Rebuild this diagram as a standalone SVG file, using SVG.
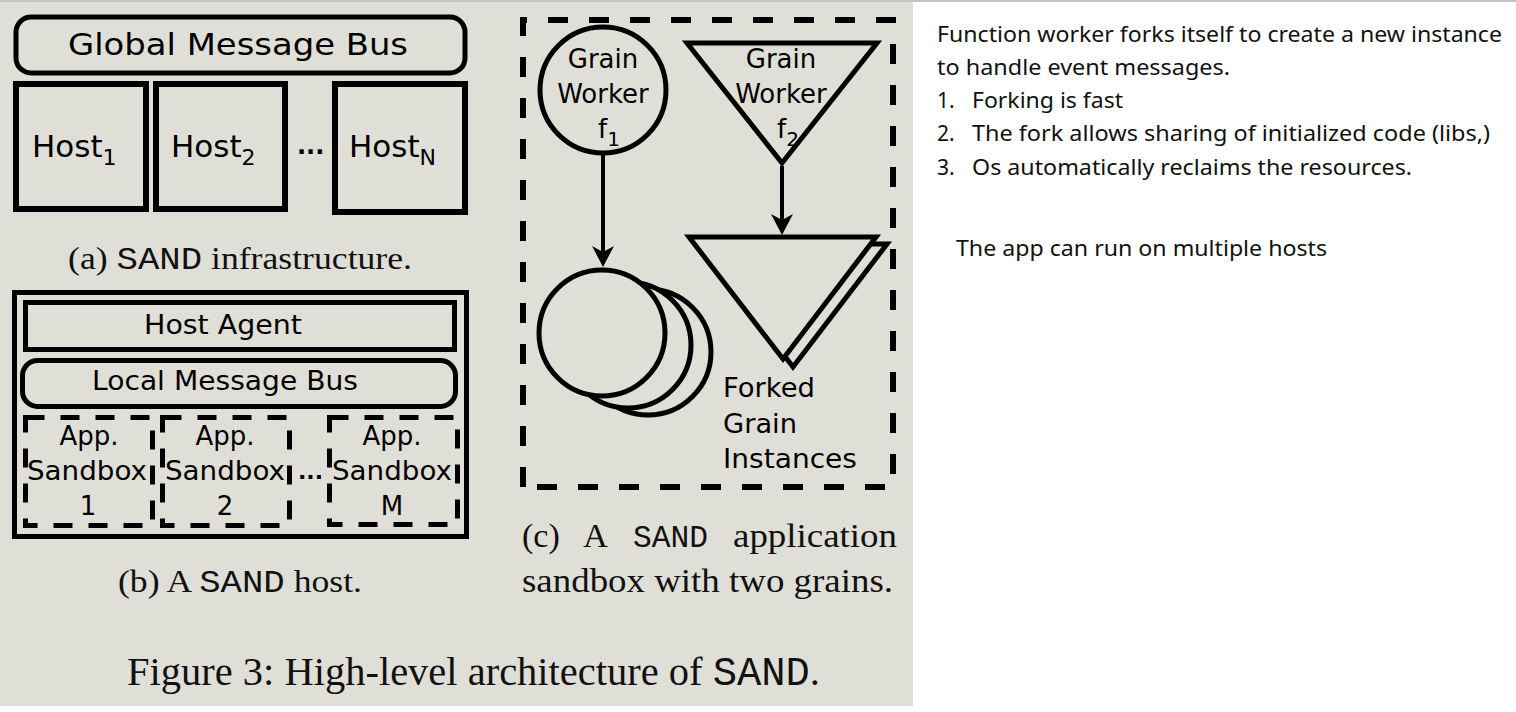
<svg xmlns="http://www.w3.org/2000/svg" width="1516" height="712" viewBox="0 0 1516 712">
<defs>
<style>
.lbl{font-family:"DejaVu Sans",sans-serif;fill:#000}
.cap{font-family:"Liberation Serif",serif;fill:#111}
.tt{font-family:"Liberation Mono",monospace}
.box{fill:none;stroke:#000;stroke-width:5}
.box6{fill:none;stroke:#000;stroke-width:6}
.dash{fill:none;stroke:#000;stroke-width:5;stroke-dasharray:19 16}
.odash{fill:none;stroke:#000;stroke-width:6;stroke-dasharray:20 21}
.shape{fill:#dfdfd8;stroke:#000;stroke-width:5}
.conn{stroke:#000;stroke-width:4;fill:none}
.note{font-family:"Noto Sans",Lato,sans-serif;font-size:21px;fill:#111}
</style>
<marker id="ah" viewBox="-22 -12 24 24" refX="-4" refY="0" markerWidth="24" markerHeight="24" markerUnits="userSpaceOnUse" orient="auto">
<path d="M0,0 L-21,-11 L-15,0 L-21,11 Z" fill="#000"/>
</marker>
</defs>
<rect width="1516" height="712" fill="#fff"/>
<rect x="0" y="0" width="913" height="706" fill="#dfdfd8"/>
<rect x="0" y="0" width="1516" height="2" fill="#c4c4c4"/>

<!-- (a) SAND infrastructure -->
<g id="global-bus">
<rect x="16" y="17" width="449" height="56" rx="15" class="box"/>
<text class="lbl" x="68" y="55" font-size="31" textLength="340" lengthAdjust="spacingAndGlyphs">Global Message Bus</text>
</g>
<g id="host1">
<rect x="16" y="84" width="130" height="125" class="box6"/>
<text class="lbl" x="32" y="157" font-size="31">Host<tspan font-size="22" dy="8">1</tspan></text>
</g>
<g id="host2">
<rect x="156" y="84" width="129" height="125" class="box6"/>
<text class="lbl" x="171" y="157" font-size="31">Host<tspan font-size="22" dy="8">2</tspan></text>
</g>
<text class="lbl" x="297" y="154" font-size="24" font-weight="bold">...</text>
<g id="hostN">
<rect x="335" y="84" width="130" height="128" class="box6"/>
<text class="lbl" x="349" y="157" font-size="31">Host<tspan font-size="22" dy="8">N</tspan></text>
</g>
<text class="cap" x="68" y="269" font-size="32" textLength="344" lengthAdjust="spacingAndGlyphs">(a) <tspan class="tt">SAND</tspan> infrastructure.</text>

<!-- (b) SAND host -->
<g id="sand-host">
<rect x="14.5" y="292.5" width="452" height="244" class="box"/>
</g>
<g id="host-agent">
<rect x="25.5" y="302.5" width="429" height="47" class="box"/>
<text class="lbl" x="144" y="334" font-size="26" textLength="158" lengthAdjust="spacingAndGlyphs">Host Agent</text>
</g>
<g id="local-bus">
<rect x="22.5" y="360.5" width="433" height="46" rx="15" class="box"/>
<text class="lbl" x="92" y="390" font-size="26" textLength="266" lengthAdjust="spacingAndGlyphs">Local Message Bus</text>
</g>
<g id="sandbox1">
<rect x="25.5" y="417.5" width="127" height="108" class="dash"/>
<text class="lbl" x="89" y="445" font-size="26" text-anchor="middle">App.</text>
<text class="lbl" x="87" y="480" font-size="26" text-anchor="middle" textLength="120" lengthAdjust="spacingAndGlyphs">Sandbox</text>
<text class="lbl" x="88" y="515" font-size="26" text-anchor="middle">1</text>
</g>
<g id="sandbox2">
<rect x="162.5" y="417.5" width="127" height="108" class="dash"/>
<text class="lbl" x="225" y="445" font-size="26" text-anchor="middle">App.</text>
<text class="lbl" x="225" y="480" font-size="26" text-anchor="middle" textLength="120" lengthAdjust="spacingAndGlyphs">Sandbox</text>
<text class="lbl" x="225" y="515" font-size="26" text-anchor="middle">2</text>
</g>
<text class="lbl" x="298" y="479" font-size="22" font-weight="bold">...</text>
<g id="sandboxM">
<rect x="329.5" y="417.5" width="128" height="107" class="dash"/>
<text class="lbl" x="392" y="445" font-size="26" text-anchor="middle">App.</text>
<text class="lbl" x="392" y="480" font-size="26" text-anchor="middle" textLength="120" lengthAdjust="spacingAndGlyphs">Sandbox</text>
<text class="lbl" x="392" y="515" font-size="26" text-anchor="middle">M</text>
</g>
<text class="cap" x="118" y="592" font-size="32" textLength="244" lengthAdjust="spacingAndGlyphs">(b) A <tspan class="tt">SAND</tspan> host.</text>

<!-- (c) application sandbox -->
<g id="app-sandbox">
<path d="M523,487 L523,20 L893,20 L893,487 Z" class="odash"/>
</g>
<g id="grain-worker-f1">
<circle cx="603" cy="90" r="63" class="shape"/>
<text class="lbl" x="603" y="68" font-size="26" text-anchor="middle">Grain</text>
<text class="lbl" x="603" y="103" font-size="26" text-anchor="middle">Worker</text>
<text class="lbl" x="598" y="138" font-size="26">f<tspan font-size="20" dy="8">1</tspan></text>
</g>
<g id="grain-worker-f2">
<path d="M687,43 L877,43 L782,163 Z" class="shape"/>
<text class="lbl" x="781" y="68" font-size="26" text-anchor="middle">Grain</text>
<text class="lbl" x="781" y="103" font-size="26" text-anchor="middle">Worker</text>
<text class="lbl" x="777" y="138" font-size="26">f<tspan font-size="20" dy="8">2</tspan></text>
</g>
<g id="forked-f1">
<circle cx="648" cy="352" r="63" class="shape"/>
<circle cx="628" cy="345" r="63" class="shape"/>
<circle cx="602" cy="333" r="63" class="shape"/>
</g>
<g id="forked-f2">
<path d="M699,244 L887,244 L793,367 Z" class="shape"/>
<path d="M689,237 L876,237 L783,359 Z" class="shape"/>
</g>
<g id="forked-label">
<text class="lbl" x="723" y="397" font-size="26" textLength="92" lengthAdjust="spacingAndGlyphs">Forked</text>
<text class="lbl" x="723" y="433" font-size="26" textLength="74" lengthAdjust="spacingAndGlyphs">Grain</text>
<text class="lbl" x="723" y="468" font-size="26" textLength="134" lengthAdjust="spacingAndGlyphs">Instances</text>
</g>
<g id="connectors">
<line x1="603" y1="153" x2="603" y2="263" class="conn" marker-end="url(#ah)"/>
<line x1="782" y1="166" x2="782" y2="231" class="conn" marker-end="url(#ah)"/>
</g>
<g id="caption-c">
<text class="cap" x="522" y="547" font-size="34">(c)</text>
<text class="cap" x="583" y="547" font-size="34" textLength="25" lengthAdjust="spacingAndGlyphs">A</text>
<text class="cap tt" x="633" y="547" font-size="31" textLength="75" lengthAdjust="spacingAndGlyphs">SAND</text>
<text class="cap" x="733" y="547" font-size="34" textLength="164" lengthAdjust="spacingAndGlyphs">application</text>
<text class="cap" x="522" y="592" font-size="34" textLength="371" lengthAdjust="spacingAndGlyphs">sandbox with two grains.</text>
</g>
<text class="cap" x="127" y="685" font-size="40" textLength="693" lengthAdjust="spacingAndGlyphs">Figure 3: High-level architecture of <tspan class="tt">SAND</tspan>.</text>

<!-- notes -->
<g id="notes">
<text class="note" x="937" y="42" textLength="565" lengthAdjust="spacingAndGlyphs">Function worker forks itself to create a new instance</text>
<text class="note" x="937" y="75" textLength="293" lengthAdjust="spacingAndGlyphs">to handle event messages.</text>
<text class="note" x="937" y="108">1.</text><text class="note" x="972" y="108" textLength="151" lengthAdjust="spacingAndGlyphs">Forking is fast</text>
<text class="note" x="937" y="141">2.</text><text class="note" x="972" y="141" textLength="518" lengthAdjust="spacingAndGlyphs">The fork allows sharing of initialized code (libs,)</text>
<text class="note" x="937" y="175">3.</text><text class="note" x="972" y="175" textLength="440" lengthAdjust="spacingAndGlyphs">Os automatically reclaims the resources.</text>
<text class="note" x="956" y="256" textLength="371" lengthAdjust="spacingAndGlyphs">The app can run on multiple hosts</text>
</g>
</svg>
